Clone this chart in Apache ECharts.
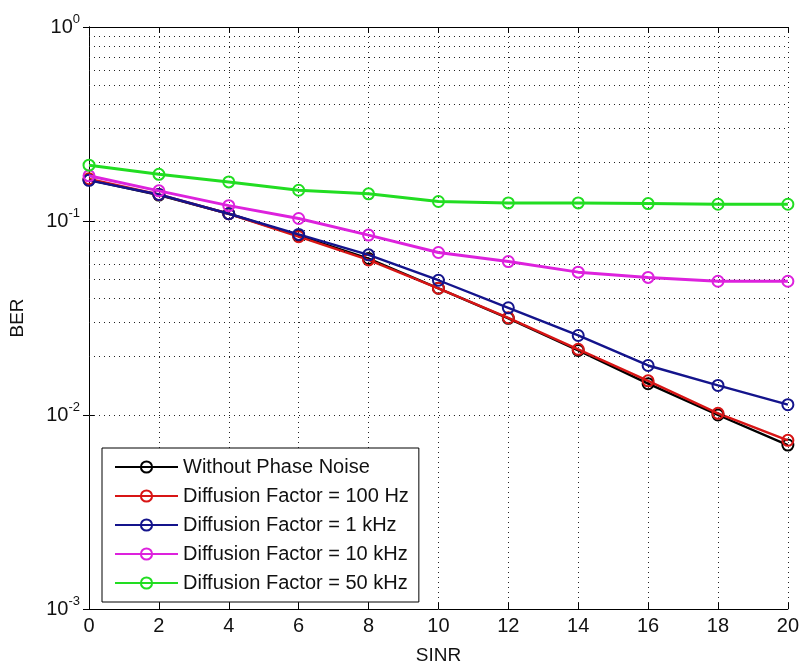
<!DOCTYPE html>
<html>
<head>
<meta charset="utf-8">
<script src="https://cdn.jsdelivr.net/npm/echarts@6/dist/echarts.min.js"></script>
<style>
  html, body { margin: 0; padding: 0; background: #fff; }
  #chart { width: 802px; height: 670px; }
</style>
</head>
<body>
<div id="chart"></div>
<script>
var sinr = [0, 2, 4, 6, 8, 10, 12, 14, 16, 18, 20];

var berNoPhase = [0.163, 0.136, 0.109, 0.084, 0.064, 0.045, 0.0315, 0.0215, 0.0145, 0.0100, 0.0070];
var ber100Hz   = [0.165, 0.137, 0.109, 0.083, 0.063, 0.045, 0.0317, 0.0218, 0.0150, 0.0102, 0.0074];
var ber1kHz    = [0.162, 0.137, 0.109, 0.0853, 0.0669, 0.0495, 0.0357, 0.0257, 0.0180, 0.0142, 0.0113];
var ber10kHz   = [0.171, 0.143, 0.120, 0.103, 0.0846, 0.0688, 0.0618, 0.0545, 0.0512, 0.0489, 0.0489];
var ber50kHz   = [0.194, 0.174, 0.159, 0.144, 0.138, 0.126, 0.124, 0.124, 0.123, 0.122, 0.122];

var seriesNames = ['Without Phase Noise', 'Diffusion Factor = 100 Hz', 'Diffusion Factor = 1 kHz',
    'Diffusion Factor = 10 kHz', 'Diffusion Factor = 50 kHz'];
var seriesData = [berNoPhase, ber100Hz, ber1kHz, ber10kHz, ber50kHz];
var seriesColors = ['#000000', '#d81515', '#14148c', '#dd22dd', '#22dd22'];

var decades = [0.001, 0.01, 0.1];

function pairs(ys) {
    return sinr.map(function (x, i) { return [x, ys[i]]; });
}

// minor log grid lines at 2..9 of each decade
var minorLines = [];
decades.forEach(function (d) {
    for (var m = 2; m <= 9; m++) {
        minorLines.push({ yAxis: m * d });
    }
});

var dotted = { color: '#222', width: 1, type: [1, 4] };

var series = [{
    name: 'grid',
    type: 'line',
    data: [],
    silent: true,
    markLine: {
        silent: true,
        symbol: ['none', 'none'],
        label: { show: false },
        lineStyle: dotted,
        emphasis: { disabled: true },
        animation: false,
        data: minorLines
    }
}];

seriesNames.forEach(function (name, i) {
    var c = seriesColors[i];
    series.push({
        name: name,
        type: 'line',
        data: pairs(seriesData[i]),
        symbol: 'circle',
        symbolSize: 11,
        showAllSymbol: true,
        lineStyle: { color: c, width: i >= 3 ? 3 : 2.4 },
        itemStyle: { color: 'rgba(255,255,255,0)', borderColor: c, borderWidth: 2 },
        emphasis: { disabled: true },
        z: 3 + i
    });
});

var myChart = echarts.init(document.getElementById('chart'));

var option = {
    animation: false,
    backgroundColor: '#fff',
    textStyle: { fontFamily: 'Liberation Sans, Arial, sans-serif' },
    grid: { left: 87, right: 14, top: 27, bottom: 57 },
    legend: {
        data: seriesNames.map(function (n, i) {
            return { name: n, itemStyle: { color: 'rgba(255,255,255,0)', borderColor: seriesColors[i], borderWidth: 2 } };
        }),
        orient: 'vertical',
        left: 102,
        top: 448,
        backgroundColor: '#fff',
        borderColor: '#000',
        borderWidth: 1,
        borderRadius: 0,
        padding: [9, 10, 9, 12],
        itemGap: 9,
        itemWidth: 63,
        itemHeight: 14,
        itemTextGap: 6,
        textStyle: { fontSize: 20, color: '#111', lineHeight: 20 }
    },
    xAxis: [{
        type: 'value',
        min: 0,
        max: 20,
        interval: 2,
        name: 'SINR',
        nameLocation: 'middle',
        nameGap: 37,
        nameTextStyle: { fontSize: 19, color: '#111' },
        axisLine: { lineStyle: { color: '#000', width: 1 } },
        axisTick: { inside: true, length: 6, lineStyle: { color: '#000' } },
        axisLabel: { fontSize: 20, color: '#111', margin: 7 },
        splitLine: { show: true, lineStyle: dotted }
    }, {
        type: 'value',
        position: 'top',
        min: 0,
        max: 20,
        interval: 2,
        axisLine: { show: true, lineStyle: { color: '#000', width: 1 } },
        axisTick: { show: true, inside: true, length: 6, lineStyle: { color: '#000' } },
        axisLabel: { show: false },
        splitLine: { show: false }
    }],
    yAxis: [{
        type: 'log',
        logBase: 10,
        min: 0.001,
        max: 1,
        name: 'BER',
        nameLocation: 'middle',
        nameGap: 62,
        nameTextStyle: { fontSize: 19, color: '#111' },
        axisLine: { show: true, lineStyle: { color: '#000', width: 1 } },
        axisTick: { show: true, inside: true, length: 6, lineStyle: { color: '#000' } },
        axisLabel: {
            margin: 9,
            formatter: function (v) {
                var e = Math.round(Math.log10(v));
                return '{b|10}{s|' + e + '}';
            },
            rich: {
                b: { fontSize: 20, color: '#111' },
                s: { fontSize: 13, color: '#111', padding: [0, 0, 16, 0] }
            }
        },
        splitLine: { show: true, lineStyle: dotted }
    }, {
        type: 'log',
        logBase: 10,
        min: 0.001,
        max: 1,
        position: 'right',
        axisLine: { show: true, lineStyle: { color: '#000', width: 1 } },
        axisTick: { show: true, inside: true, length: 6, lineStyle: { color: '#000' } },
        axisLabel: { show: false },
        splitLine: { show: false }
    }],
    series: series
};

myChart.setOption(option);
</script>
</body>
</html>
